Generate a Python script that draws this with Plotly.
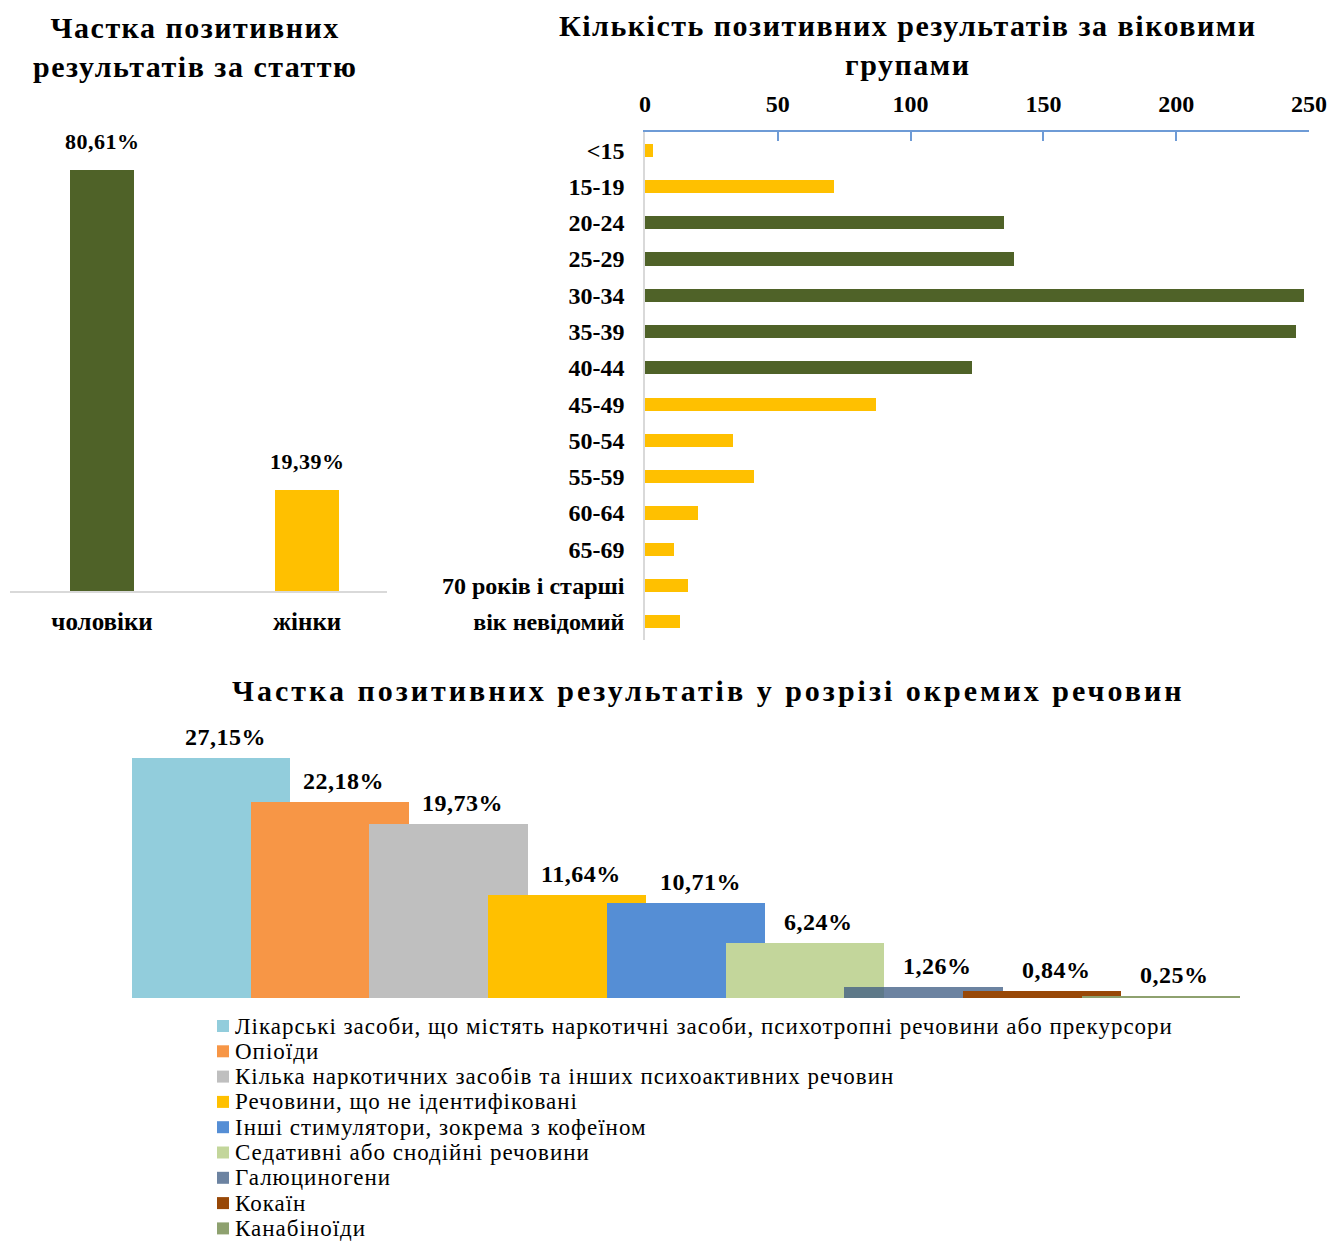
import plotly.graph_objects as go

W, H = 1332, 1244

# ---- data ----
gender_labels = ["чоловіки", "жінки"]
gender_share = [80.61, 19.39]

age_groups = ["<15", "15-19", "20-24", "25-29", "30-34", "35-39", "40-44",
              "45-49", "50-54", "55-59", "60-64", "65-69",
              "70 років і старші", "вік невідомий"]
age_counts = [3, 71, 135, 139, 248, 245, 123, 87, 33, 41, 20, 11, 16, 13]
age_peak_groups = ["20-24", "25-29", "30-34", "35-39", "40-44"]
age_ticks = [0, 50, 100, 150, 200, 250]

substance_names = [
    "Лікарські засоби, що містять наркотичні засоби, психотропні речовини або прекурсори",
    "Опіоїди",
    "Кілька наркотичних засобів та інших психоактивних речовин",
    "Речовини, що не ідентифіковані",
    "Інші стимулятори, зокрема з кофеїном",
    "Седативні або снодійні речовини",
    "Галюциногени",
    "Кокаїн",
    "Канабіноїди",
]
substance_share = [27.15, 22.18, 19.73, 11.64, 10.71, 6.24, 1.26, 0.84, 0.25]

# ---- styling ----
SERIF = "Liberation Serif, Times New Roman, serif"
GREEN = "#4F6228"
GOLD = "#FFC000"
substance_colors = ["#92CDDC", "#F79646", "#BFBFBF", "#FFC000", "#558ED5",
                    "#C3D69B", "rgba(62,92,132,0.76)", "#984807", "#8EA16F"]


def fx(px):
    return px / W


def fy(py):
    return 1 - py / H


def pct(v):
    return f"{v:.2f}".replace(".", ",") + "%"


def bold(size):
    return dict(family=SERIF, size=size, color="#000000", weight="bold")


def spaced(text, px):
    return f'<span style="letter-spacing:{px}px">{text}</span>'


fig = go.Figure()

# gender split
fig.add_trace(go.Bar(
    x=list(range(len(gender_share))), y=gender_share, width=0.312,
    marker=dict(color=[GREEN, GOLD], line=dict(width=0)),
    xaxis="x", yaxis="y", showlegend=False, hoverinfo="skip",
))

# age groups
fig.add_trace(go.Bar(
    x=age_counts, y=age_groups, orientation="h", width=0.36,
    marker=dict(color=[GREEN if g in age_peak_groups else GOLD for g in age_groups],
                line=dict(width=0)),
    xaxis="x2", yaxis="y2", showlegend=False, hoverinfo="skip",
))

# substances: overlapping wide bars, later ones drawn on top
for i, (name, v, c) in enumerate(zip(substance_names, substance_share, substance_colors)):
    fig.add_trace(go.Bar(
        x=[i], y=[v], width=1.333, name=name,
        marker=dict(color=c, line=dict(width=0)),
        xaxis="x3", yaxis="y3", showlegend=False, hoverinfo="skip",
    ))

annotations = []

# value labels
for i, v in enumerate(gender_share):
    annotations.append(dict(x=i, y=v, xref="x", yref="y", text=spaced(pct(v), 0.5),
                            showarrow=False, yanchor="bottom", yshift=14,
                            font=bold(22)))
for i, v in enumerate(substance_share):
    annotations.append(dict(x=i, y=v, xref="x3", yref="y3", text=spaced(pct(v), 0.5),
                            showarrow=False, yanchor="bottom", yshift=6, xshift=14,
                            font=bold(24)))

# titles
annotations += [
    dict(x=fx(195), y=fy(47), xref="paper", yref="paper", showarrow=False,
         text=spaced("Частка позитивних<br>результатів за статтю", 1.5), font=bold(30),
         xanchor="center", yanchor="middle"),
    dict(x=fx(908), y=fy(45), xref="paper", yref="paper", showarrow=False,
         text=spaced("Кількість позитивних результатів за віковими<br>групами", 1.5),
         font=bold(30), xanchor="center", yanchor="middle"),
    dict(x=fx(708), y=fy(690), xref="paper", yref="paper", showarrow=False,
         text=spaced("Частка позитивних результатів у розрізі окремих речовин", 3),
         font=bold(30), xanchor="center", yanchor="middle"),
]

# legend for the substance chart
shapes = []
LEG_TOP, LEG_STEP = 1026, 25.3
for i, (name, c) in enumerate(zip(substance_names, substance_colors)):
    yc = LEG_TOP + LEG_STEP * i
    shapes.append(dict(type="rect", xref="paper", yref="paper",
                       x0=fx(217), x1=fx(229), y0=fy(yc + 6), y1=fy(yc - 6),
                       fillcolor=c, line=dict(width=0)))
    annotations.append(dict(x=fx(233), y=fy(yc), xref="paper", yref="paper",
                            text=spaced(name, 1), showarrow=False,
                            xanchor="left", yanchor="middle",
                            font=dict(family=SERIF, size=23, color="#000000")))

fig.update_layout(
    width=W, height=H, autosize=False, margin=dict(l=0, r=0, t=0, b=0, autoexpand=False),
    paper_bgcolor="white", plot_bgcolor="white",
    barmode="overlay", bargap=0,
    xaxis=dict(domain=[fx(10), fx(387)], range=[-0.449, 1.390], anchor="y",
               tickmode="array", tickvals=[0, 1], ticktext=gender_labels,
               showline=True, linecolor="#D9D9D9", linewidth=1.5, ticks="",
               showgrid=False, zeroline=False, tickfont=bold(25),
               ticklabelstandoff=7, automargin=False, fixedrange=True),
    yaxis=dict(domain=[fy(591), fy(130)], range=[0, 88.3], anchor="x",
               visible=False, automargin=False, fixedrange=True),
    xaxis2=dict(domain=[fx(645), fx(1309)], range=[0, 250], anchor="y2", side="top",
                tickmode="array", tickvals=age_ticks,
                showline=True, linecolor="#6E9BD6", linewidth=1.5,
                ticks="inside", ticklen=9, tickwidth=1.5, tickcolor="#6E9BD6",
                showgrid=False, zeroline=False, tickfont=bold(24),
                ticklabelstandoff=9, automargin=False, fixedrange=True),
    yaxis2=dict(domain=[fy(640), fy(132)], anchor="x2",
                categoryorder="array", categoryarray=age_groups, range=[13.5, -0.5],
                showline=True, linecolor="#D9D9D9", linewidth=1.5, ticks="",
                showgrid=False, zeroline=False, tickfont=bold(24),
                ticklabelstandoff=14, automargin=False, fixedrange=True),
    xaxis3=dict(domain=[fx(132), fx(1240)], range=[-0.667, 8.667], anchor="y3",
                visible=False, automargin=False, fixedrange=True),
    yaxis3=dict(domain=[fy(998), fy(720)], range=[0, 31.45], anchor="x3",
                visible=False, automargin=False, fixedrange=True),
    annotations=annotations,
    shapes=shapes,
)

fig.write_html("out.html", config={"responsive": False})
